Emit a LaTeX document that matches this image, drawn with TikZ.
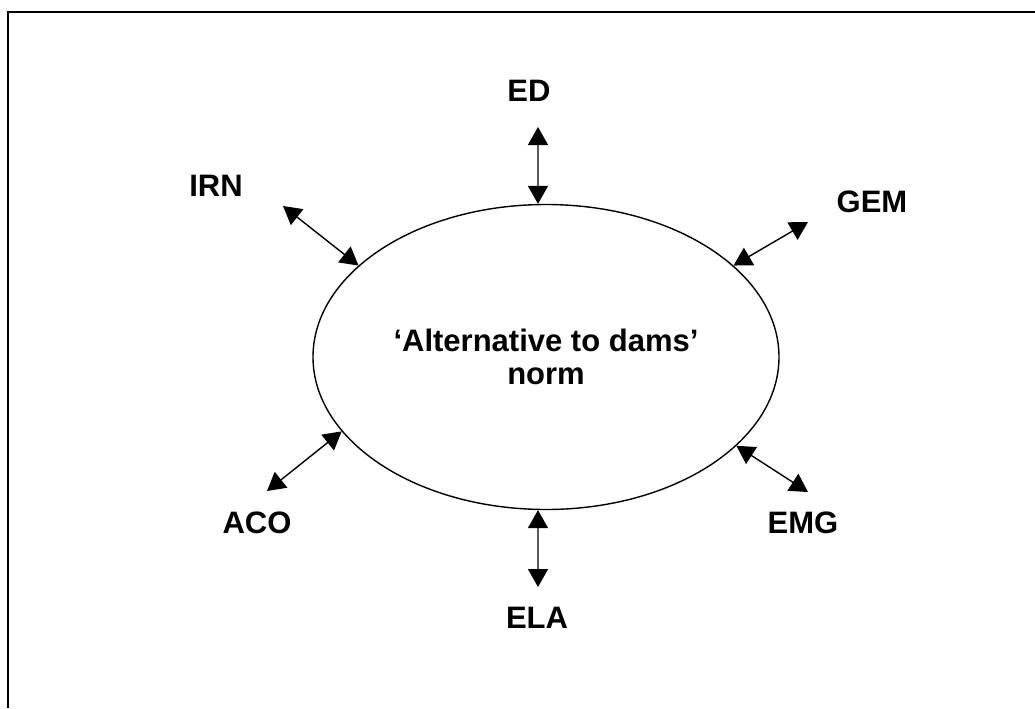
\documentclass[tikz,border=0pt]{standalone}
\usepackage{fontspec}
\setmainfont{Liberation Sans}
\usetikzlibrary{shapes.geometric,arrows.meta}

\begin{document}
\begin{tikzpicture}[x=0.5pt,y=-0.5pt,
   lbl/.style={font=\fontsize{15.5}{16.5}\selectfont\bfseries,inner sep=0pt},
   dbl/.style={line width=0.7pt,{Triangle[length=9pt,width=10pt]}-{Triangle[length=9pt,width=10pt]}},
   normbox/.style={ellipse,draw,line width=0.7pt,minimum width=233pt,minimum height=152.5pt,inner sep=0pt,align=center,font=\fontsize{15.5}{16.5}\selectfont\bfseries}]
\useasboundingbox (0,0) rectangle (1035,708);
\draw[line width=0.8pt] (1035,12) -- (8,12) -- (8,708);
\node[normbox] (norm) at (546,357) {‘Alternative to dams’\\norm};
\foreach \name/\txt/\lx/\ly/\ex/\ey/\ang in %
{ed/ED/529/91/538/127/93, irn/IRN/216/186/283/206/154, gem/GEM/872/202/808/222/26,
 aco/ACO/257/523/267/491/200, emg/EMG/803/523/808/492/335, ela/ELA/537/618/538/587/267} {
   \node[lbl] (\name) at (\lx,\ly) {\txt};
   \coordinate (\name end) at (\ex,\ey);
   \draw[dbl] (\name end) -- (norm.\ang);
}
\end{tikzpicture}
\end{document}
